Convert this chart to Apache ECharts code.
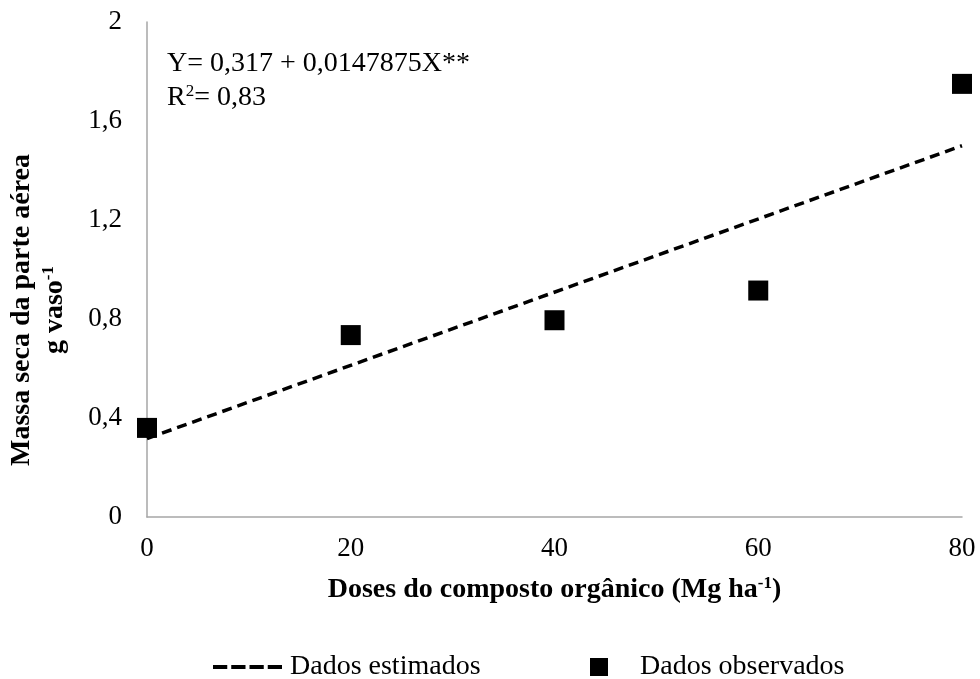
<!DOCTYPE html>
<html>
<head>
<meta charset="utf-8">
<script src="https://cdn.jsdelivr.net/npm/echarts@6/dist/echarts.min.js"></script>
<style>
  html, body { margin: 0; padding: 0; background: #fff; }
  #chart { width: 980px; height: 679px; }
</style>
</head>
<body>
<div id="chart"></div>
<script>
// ---- dados ----
const doses = [0, 20, 40, 60, 80]
const observados = [0.36, 0.735, 0.795, 0.915, 1.75]
const dosesEstimadas = [0, 80]
const estimados = [0.317, 1.5]
const xTicks = [0, 20, 40, 60, 80]
const yTicks = [0, 0.4, 0.8, 1.2, 1.6, 2]

const serif = '"Liberation Serif", "DejaVu Serif", serif'
const fmt = v => Number(v.toFixed(1)).toString().replace('.', ',')

// tracejado da legenda (4 traços)
const dashIcon = 'path://M0,0h14.25v4h-14.25z M18.25,0h14.25v4h-14.25z M36.5,0h14.25v4h-14.25z M54.75,0h14.25v4h-14.25z'

const chart = echarts.init(document.getElementById('chart'))

chart.setOption({
  animation: false,
  backgroundColor: '#fff',
  grid: { left: 147, right: 18, top: 22, bottom: 162 },
  xAxis: {
    type: 'value',
    min: xTicks[0],
    max: xTicks[xTicks.length - 1],
    interval: 20,
    name: '{b|Doses do composto orgânico (Mg ha}{s|-1}{b|)}',
    nameLocation: 'middle',
    nameGap: 58,
    nameTextStyle: {
      rich: {
        b: { fontFamily: serif, fontWeight: 'bold', fontSize: 28, color: '#000' },
        s: { fontFamily: serif, fontWeight: 'bold', fontSize: 17, color: '#000', padding: [0, 0, 12, 0] }
      }
    },
    axisLine: { show: true, lineStyle: { color: '#a6a6a6', width: 1.5 } },
    axisTick: { show: false },
    splitLine: { show: false },
    axisLabel: { fontFamily: serif, fontSize: 27, color: '#000', margin: 18 }
  },
  yAxis: {
    type: 'value',
    min: yTicks[0],
    max: yTicks[yTicks.length - 1],
    interval: 0.4,
    axisLine: { show: true, lineStyle: { color: '#a6a6a6', width: 1.5 } },
    axisTick: { show: false },
    splitLine: { show: false },
    axisLabel: { fontFamily: serif, fontSize: 27, color: '#000', margin: 25, formatter: fmt }
  },
  graphic: [
    {
      type: 'text',
      left: 167, top: 50,
      style: { text: 'Y= 0,317 + 0,0147875X**', font: '28px ' + serif, fill: '#000' }
    },
    {
      type: 'text',
      left: 167, top: 83,
      style: {
        text: '{n|R}{s|2}{n|= 0,83}',
        rich: {
          n: { fontFamily: serif, fontSize: 28, fill: '#000' },
          s: { fontFamily: serif, fontSize: 17, fill: '#000', padding: [0, 0, 12, 0] }
        }
      }
    },
    {
      type: 'text',
      x: 22, y: 310,
      rotation: Math.PI / 2,
      style: {
        text: 'Massa seca da parte aérea',
        font: 'bold 28px ' + serif,
        fill: '#000',
        align: 'center',
        verticalAlign: 'middle'
      }
    },
    {
      type: 'text',
      x: 55, y: 310,
      rotation: Math.PI / 2,
      style: {
        text: '{b|g vaso}{s|-1}',
        align: 'center',
        verticalAlign: 'middle',
        rich: {
          b: { fontFamily: serif, fontWeight: 'bold', fontSize: 28, fill: '#000' },
          s: { fontFamily: serif, fontWeight: 'bold', fontSize: 17, fill: '#000', padding: [0, 0, 12, 0] }
        }
      }
    }
  ],
  legend: [
    {
      data: [{ name: 'Dados estimados', icon: dashIcon }],
      left: 208, top: 648,
      itemWidth: 69, itemHeight: 4,
      itemStyle: { color: '#000' },
      textStyle: { fontFamily: serif, fontSize: 28, color: '#000', padding: [0, 0, 0, 3] }
    },
    {
      data: [{ name: 'Dados observados', icon: 'rect' }],
      left: 585, top: 648,
      itemWidth: 18, itemHeight: 18,
      itemStyle: { color: '#000' },
      textStyle: { fontFamily: serif, fontSize: 28, color: '#000', padding: [0, 0, 0, 27] }
    }
  ],
  series: [
    {
      name: 'Dados estimados',
      type: 'line',
      data: dosesEstimadas.map((d, i) => [d, estimados[i]]),
      symbol: 'none',
      lineStyle: { color: '#000', width: 3.5, type: [10, 6] },
      itemStyle: { color: '#000' },
      z: 2
    },
    {
      name: 'Dados observados',
      type: 'scatter',
      data: doses.map((d, i) => [d, observados[i]]),
      symbol: 'rect',
      symbolSize: 20,
      itemStyle: { color: '#000', opacity: 1 },
      z: 3
    }
  ]
})
</script>
</body>
</html>
